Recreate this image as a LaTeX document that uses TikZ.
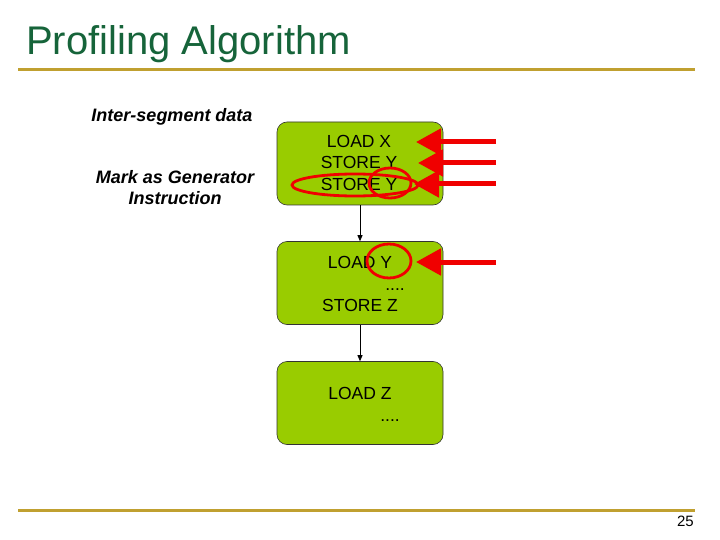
\documentclass[tikz,border=0pt]{standalone}
\usepackage{fontspec}
\setmainfont{Liberation Sans}
\usetikzlibrary{arrows.meta}
\definecolor{titlegreen}{RGB}{22,100,58}
\definecolor{gold}{RGB}{192,160,48}
\definecolor{boxgreen}{RGB}{153,204,0}
\definecolor{hotred}{RGB}{240,0,0}
\tikzset{
  blk/.style={draw=black!80, line width=0.6pt, fill=boxgreen, rounded corners=10pt, minimum width=166pt, minimum height=83pt, inner sep=0pt},
  code/.style={font=\fontsize{17.5}{19}\selectfont, inner sep=0pt, anchor=base},
  note/.style={font=\fontsize{18}{21}\selectfont\bfseries\itshape, inner sep=0pt, align=center},
  flow/.style={line width=0.8pt, -{Triangle[length=6pt,width=5pt]}},
  redarrow/.style={draw=hotred, line width=5pt, -{Triangle[length=25pt,width=26pt]}},
  ring/.style={draw=hotred, line width=2.8pt},
  rule/.style={draw=gold, line width=3pt}
}
\begin{document}
\begin{tikzpicture}[x=1pt,y=-1pt]
\useasboundingbox (0,0) rectangle (720,540);
% title and rules
\node[anchor=base west, inner sep=0pt, text=titlegreen, font=\fontsize{40}{44}\selectfont] (title) at (26,55) {Profiling Algorithm};
\draw[rule] (18,70) -- (695,70);
\draw[rule] (18,510) -- (695,510);
\node[anchor=base east, inner sep=0pt, font=\fontsize{15}{16}\selectfont] (pnum) at (694,526) {25};
% left notes
\node[note] (inter) at (172,117) {Inter-segment data};
\node[note] (mark) at (175,188) {Mark as Generator\\Instruction};
% blocks
\node[blk] (b1) at (360,163.5) {};
\node[blk] (b2) at (360,283) {};
\node[blk] (b3) at (360,403) {};
% block texts
\node[code] (t11) at (359,148) {LOAD X};
\node[code] (t12) at (359,169) {STORE Y};
\node[code] (t13) at (359,191) {STORE Y};
\node[code] (t21) at (360,268) {LOAD Y};
\node[code] (t22) at (395,290) {....};
\node[code] (t23) at (360,311) {STORE Z};
\node[code] (t31) at (360,399) {LOAD Z};
\node[code] (t32) at (390,421) {....};
% flow connectors
\draw[flow] (b1.south) -- (b2.north);
\draw[flow] (b2.south) -- (b3.north);
% red arrows
\coordinate (s1) at (496,142);
\coordinate (s2) at (496,163);
\coordinate (s3) at (496,184);
\coordinate (s4) at (496,262);
\coordinate (e1) at (416,142);
\coordinate (e2) at (418,163);
\coordinate (e3) at (414,184);
\coordinate (e4) at (416,262);
\draw[redarrow] (s1) -- (e1);
\draw[redarrow] (s2) -- (e2);
\draw[redarrow] (s3) -- (e3);
\draw[redarrow] (s4) -- (e4);
% red rings
\draw[ring] (355,185) ellipse [x radius=63, y radius=11];
\draw[ring] (390,183) ellipse [x radius=21, y radius=15];
\draw[ring] (389,261) ellipse [x radius=22, y radius=17];
\end{tikzpicture}
\end{document}
